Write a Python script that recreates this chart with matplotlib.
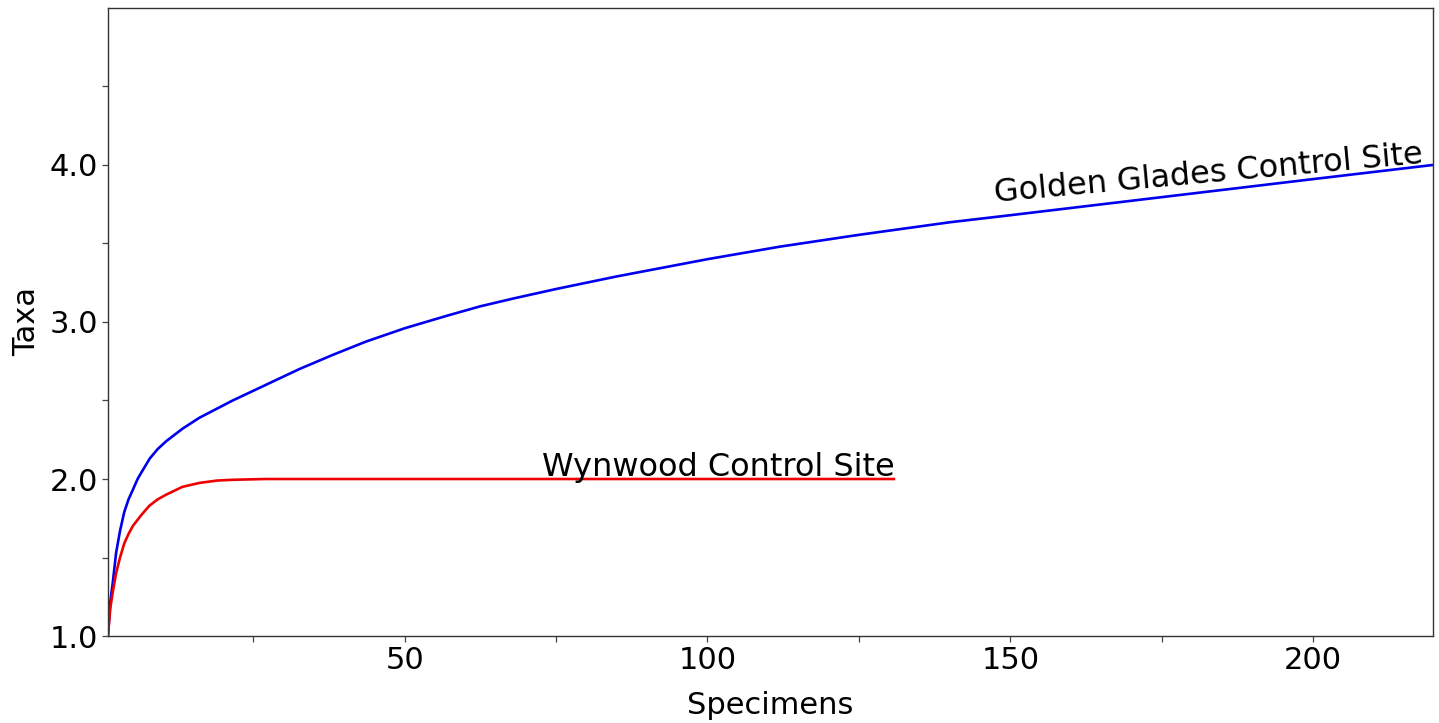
import matplotlib
matplotlib.use("Agg")
import matplotlib.pyplot as plt
from matplotlib.ticker import FixedLocator, FormatStrFormatter

# Rarefaction curves: expected taxa vs. number of specimens
golden_x = [1, 1.4, 1.8, 2.35, 3.0, 3.7, 4.4, 5.1, 5.9, 6.5, 7.9, 9.2, 10.6,
            13.3, 16.1, 21.6, 27.1, 32.6, 38.1, 43.6, 50, 57, 62.5, 68, 75,
            85, 100, 112, 125, 140, 150, 175, 200, 219.8]
golden_y = [1.0, 1.22, 1.34, 1.53, 1.67, 1.79, 1.87, 1.93, 2.0, 2.04, 2.13,
            2.19, 2.24, 2.32, 2.39, 2.50, 2.60, 2.70, 2.79, 2.875, 2.96, 3.04,
            3.10, 3.15, 3.21, 3.29, 3.40, 3.48, 3.555, 3.635, 3.68, 3.795,
            3.91, 4.0]

wynwood_x = [1, 1.4, 1.8, 2.35, 3.0, 3.7, 4.4, 5.1, 6.5, 7.85, 9.2, 10.6,
             13.3, 16.1, 19, 21.6, 27, 131]
wynwood_y = [1.0, 1.18, 1.28, 1.40, 1.50, 1.59, 1.65, 1.70, 1.77, 1.83, 1.87,
             1.90, 1.95, 1.975, 1.99, 1.995, 2.0, 2.0]

x_major = [50, 100, 150, 200]
x_minor = [25, 75, 125, 175]
y_major = [1.0, 2.0, 3.0, 4.0]
y_minor = [1.5, 2.5, 3.5, 4.5]

fig = plt.figure(figsize=(14.39, 7.23), dpi=100)
ax = fig.add_axes([0.075, 0.1203, 0.9208, 0.8687])

ax.plot(golden_x, golden_y, color="#0000ee", lw=1.9,
        solid_capstyle="butt", solid_joinstyle="round")
ax.plot(wynwood_x, wynwood_y, color="#ee0000", lw=1.9,
        solid_capstyle="butt", solid_joinstyle="round")

ax.set_xlim(1, 219.8)
ax.set_ylim(1.0, 5.0)

ax.xaxis.set_major_locator(FixedLocator(x_major))
ax.xaxis.set_minor_locator(FixedLocator(x_minor))
ax.yaxis.set_major_locator(FixedLocator(y_major))
ax.yaxis.set_minor_locator(FixedLocator(y_minor))
ax.yaxis.set_major_formatter(FormatStrFormatter("%.1f"))

ax.tick_params(which="both", direction="out", length=4, width=0.9,
               color="#444444", labelsize=22, pad=3)
for s in ax.spines.values():
    s.set_color("#333333")
    s.set_linewidth(1.0)

ax.set_xlabel("Specimens", fontsize=22, labelpad=12)
ax.set_ylabel("Taxa", fontsize=22, labelpad=6)

ax.text(218.2, 4.01, "Golden Glades Control Site", fontsize=23,
        ha="right", va="baseline", rotation=5.2, rotation_mode="anchor")
ax.text(131, 2.02, "Wynwood Control Site", fontsize=23,
        ha="right", va="baseline")

fig.savefig("out.png", dpi=100)
